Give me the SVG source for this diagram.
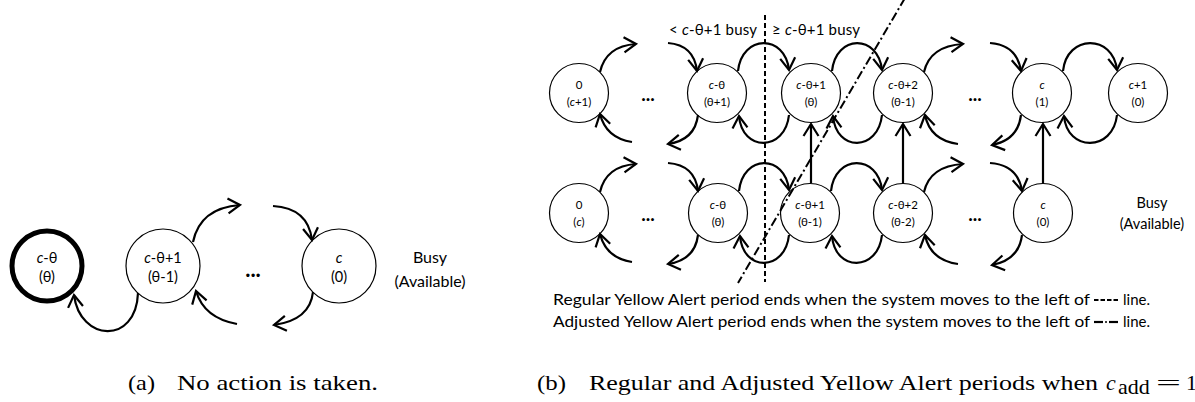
<svg xmlns="http://www.w3.org/2000/svg" width="1195" height="402" viewBox="0 0 1195 402">
<style>
.nd{fill:#fff;stroke:#000;stroke-width:1.2}
.nb{fill:#fff;stroke:#000;stroke-width:5}
.la{font-family:Lato,"Liberation Sans",sans-serif;font-size:14.5px;text-anchor:middle;fill:#000}
.lb{font-family:Lato,"Liberation Sans",sans-serif;font-size:11.5px;text-anchor:middle;fill:#000}
.tx{font-family:Lato,"Liberation Sans",sans-serif;fill:#000}
.cap{font-family:"Liberation Serif","DejaVu Serif",serif;font-size:22px;fill:#000}
.e{fill:none;stroke:#000;stroke-width:2.2;marker-end:url(#ah)}
.dots{font-family:Lato,"Liberation Sans",sans-serif;font-weight:bold;text-anchor:middle;fill:#000}
</style>
<defs>
<marker id="ah" viewBox="-15 -10 18 20" refX="0" refY="0" markerWidth="18" markerHeight="20" markerUnits="userSpaceOnUse" orient="auto">
<path d="M-12,-7.5 L0,0 L-12,7.5" fill="none" stroke="#000" stroke-width="2.2"/>
</marker>
</defs>

<!-- Panel (a) -->
<g id="a-n0"><circle class="nb" cx="47" cy="266" r="35"/><text class="la" x="47" y="263"><tspan font-style="italic">c</tspan>-θ</text><text class="la" x="47" y="282">(θ)</text></g>
<g id="a-n1"><circle class="nd" cx="163" cy="266" r="37"/><text class="la" x="163" y="263"><tspan font-style="italic">c</tspan>-θ+1</text><text class="la" x="163" y="282">(θ-1)</text></g>
<g id="a-n2"><circle class="nd" cx="339" cy="266" r="37"/><text class="la" x="339" y="263" font-style="italic">c</text><text class="la" x="339" y="282">(0)</text></g>
<g id="a-dots"><text class="dots" x="253" y="277" font-size="22">...</text></g>
<g id="a-legend"><text class="tx" x="430" y="263" font-size="16" text-anchor="middle">Busy</text><text class="tx" x="430" y="287" font-size="16" text-anchor="middle">(Available)</text></g>
<g id="a-edges">
<path class="e" d="M193,242 Q200,208 240,205"/>
<path class="e" d="M273,206 Q308,208 312,240"/>
<path class="e" d="M313,292 Q310,320 274,325"/>
<path class="e" d="M237,324 Q204,318 196,291"/>
<path class="e" d="M138,293 C136,345 80,342 74,295"/>
</g>

<!-- Panel (b) nodes -->
<g id="b-t0"><circle class="nd" cx="579" cy="93" r="29.5"/><text class="lb" x="579" y="89">0</text><text class="lb" x="579" y="106">(<tspan font-style="italic">c</tspan>+1)</text></g>
<g id="b-t1"><circle class="nd" cx="717" cy="93" r="29.5"/><text class="lb" x="717" y="89"><tspan font-style="italic">c</tspan>-θ</text><text class="lb" x="717" y="106">(θ+1)</text></g>
<g id="b-t2"><circle class="nd" cx="811" cy="93" r="29.5"/><text class="lb" x="811" y="89"><tspan font-style="italic">c</tspan>-θ+1</text><text class="lb" x="811" y="106">(θ)</text></g>
<g id="b-t3"><circle class="nd" cx="903" cy="93" r="29.5"/><text class="lb" x="903" y="89"><tspan font-style="italic">c</tspan>-θ+2</text><text class="lb" x="903" y="106">(θ-1)</text></g>
<g id="b-t4"><circle class="nd" cx="1042" cy="93" r="29.5"/><text class="lb" x="1042" y="89" font-style="italic">c</text><text class="lb" x="1042" y="106">(1)</text></g>
<g id="b-t5"><circle class="nd" cx="1138" cy="93" r="29.5"/><text class="lb" x="1138" y="89"><tspan font-style="italic">c</tspan>+1</text><text class="lb" x="1138" y="106">(0)</text></g>

<g id="b-b0"><circle class="nd" cx="579" cy="213" r="29.5"/><text class="lb" x="579" y="209">0</text><text class="lb" x="579" y="226">(<tspan font-style="italic">c</tspan>)</text></g>
<g id="b-b1"><circle class="nd" cx="718" cy="213" r="29.5"/><text class="lb" x="718" y="209"><tspan font-style="italic">c</tspan>-θ</text><text class="lb" x="718" y="226">(θ)</text></g>
<g id="b-b2"><circle class="nd" cx="810" cy="213" r="29.5"/><text class="lb" x="810" y="209"><tspan font-style="italic">c</tspan>-θ+1</text><text class="lb" x="810" y="226">(θ-1)</text></g>
<g id="b-b3"><circle class="nd" cx="903" cy="213" r="29.5"/><text class="lb" x="903" y="209"><tspan font-style="italic">c</tspan>-θ+2</text><text class="lb" x="903" y="226">(θ-2)</text></g>
<g id="b-b4"><circle class="nd" cx="1043" cy="213" r="29.5"/><text class="lb" x="1043" y="209" font-style="italic">c</text><text class="lb" x="1043" y="226">(0)</text></g>

<g id="b-dots">
<text class="dots" x="648" y="101" font-size="19">...</text>
<text class="dots" x="975" y="101" font-size="19">...</text>
<text class="dots" x="648" y="221" font-size="19">...</text>
<text class="dots" x="975" y="221" font-size="19">...</text>
</g>

<g id="b-busy"><text class="tx" x="1152" y="208" font-size="14.5" text-anchor="middle">Busy</text><text class="tx" x="1152" y="229" font-size="14.5" text-anchor="middle">(Available)</text></g>

<g id="b-toplabels">
<text class="tx" x="669" y="35" font-size="15" textLength="88">&lt; <tspan font-style="italic">c</tspan>-θ+1 busy</text>
<text class="tx" x="772" y="35" font-size="15" textLength="88">≥ <tspan font-style="italic">c</tspan>-θ+1 busy</text>
</g>

<g id="b-lines">
<line x1="765" y1="15" x2="765" y2="282" stroke="#000" stroke-width="2" stroke-dasharray="5 3"/>
<line x1="905" y1="-2" x2="738" y2="283" stroke="#000" stroke-width="2" stroke-dasharray="9 3 2 3"/>
</g>

<g id="b-edges">
<path class="e" d="M600,72 Q606,46 636,44"/>
<path class="e" d="M668,43 Q694,45 697,71"/>
<path class="e" d="M698,115 Q695,140 668,144"/>
<path class="e" d="M632,142 Q606,138 600,114"/>
<path class="e" d="M738,71 C742,34 785,34 789,70"/>
<path class="e" d="M789,115 C785,152 742,152 739,116"/>
<path class="e" d="M832,71 C836,34 878,34 882,70"/>
<path class="e" d="M882,115 C878,152 836,152 833,116"/>
<path class="e" d="M924,72 Q930,46 963,44"/>
<path class="e" d="M990,43 Q1017,45 1021,71"/>
<path class="e" d="M1021,115 Q1018,140 992,145"/>
<path class="e" d="M958,144 Q930,140 925,115"/>
<path class="e" d="M1063,71 C1067,34 1113,34 1117,70"/>
<path class="e" d="M1117,115 C1113,152 1067,152 1064,116"/>
<path class="e" d="M811,183 L811,124"/>
<path class="e" d="M903,183 L903,124"/>
<path class="e" d="M1043,183 L1043,124"/>
<path class="e" d="M600,192 Q606,166 636,164"/>
<path class="e" d="M668,163 Q695,165 698,191"/>
<path class="e" d="M698,235 Q695,260 668,264"/>
<path class="e" d="M632,262 Q606,258 600,234"/>
<path class="e" d="M739,191 C743,154 785,154 789,190"/>
<path class="e" d="M789,235 C785,272 743,272 740,236"/>
<path class="e" d="M831,191 C835,154 878,154 882,190"/>
<path class="e" d="M882,235 C878,272 835,272 832,236"/>
<path class="e" d="M924,192 Q930,166 963,164"/>
<path class="e" d="M990,163 Q1018,165 1022,191"/>
<path class="e" d="M1022,235 Q1019,260 992,265"/>
<path class="e" d="M958,264 Q930,260 925,235"/>
</g>

<g id="b-legend">
<text class="tx" x="553" y="305" font-size="15" textLength="537" lengthAdjust="spacingAndGlyphs">Regular Yellow Alert period ends when the system moves to the left of</text>
<line x1="1094" y1="300" x2="1118" y2="300" stroke="#000" stroke-width="2.2" stroke-dasharray="4.5 2"/>
<text class="tx" x="1123" y="305" font-size="15">line.</text>
<text class="tx" x="553" y="327" font-size="15" textLength="537" lengthAdjust="spacingAndGlyphs">Adjusted Yellow Alert period ends when the system moves to the left of</text>
<line x1="1094" y1="322" x2="1103" y2="322" stroke="#000" stroke-width="2.2"/>
<line x1="1105" y1="322" x2="1107" y2="322" stroke="#000" stroke-width="1.5"/>
<line x1="1109" y1="322" x2="1118" y2="322" stroke="#000" stroke-width="2.2"/>
<text class="tx" x="1123" y="327" font-size="15">line.</text>
</g>

<g id="captions">
<text class="cap" x="128" y="390" textLength="27" lengthAdjust="spacingAndGlyphs">(a)</text>
<text class="cap" x="177" y="390" textLength="201" lengthAdjust="spacingAndGlyphs">No action is taken.</text>
<text class="cap" x="537" y="390" textLength="29" lengthAdjust="spacingAndGlyphs">(b)</text>
<text class="cap" x="589" y="390" textLength="509" lengthAdjust="spacingAndGlyphs">Regular and Adjusted Yellow Alert periods when</text>
<text class="cap" x="1106" y="390" font-style="italic">c</text>
<text class="cap" x="1118" y="394" font-size="14">add</text>
<text class="cap" x="1156" y="390" textLength="25" lengthAdjust="spacingAndGlyphs">=</text>
<text class="cap" x="1186" y="390">1</text>
</g>
</svg>
